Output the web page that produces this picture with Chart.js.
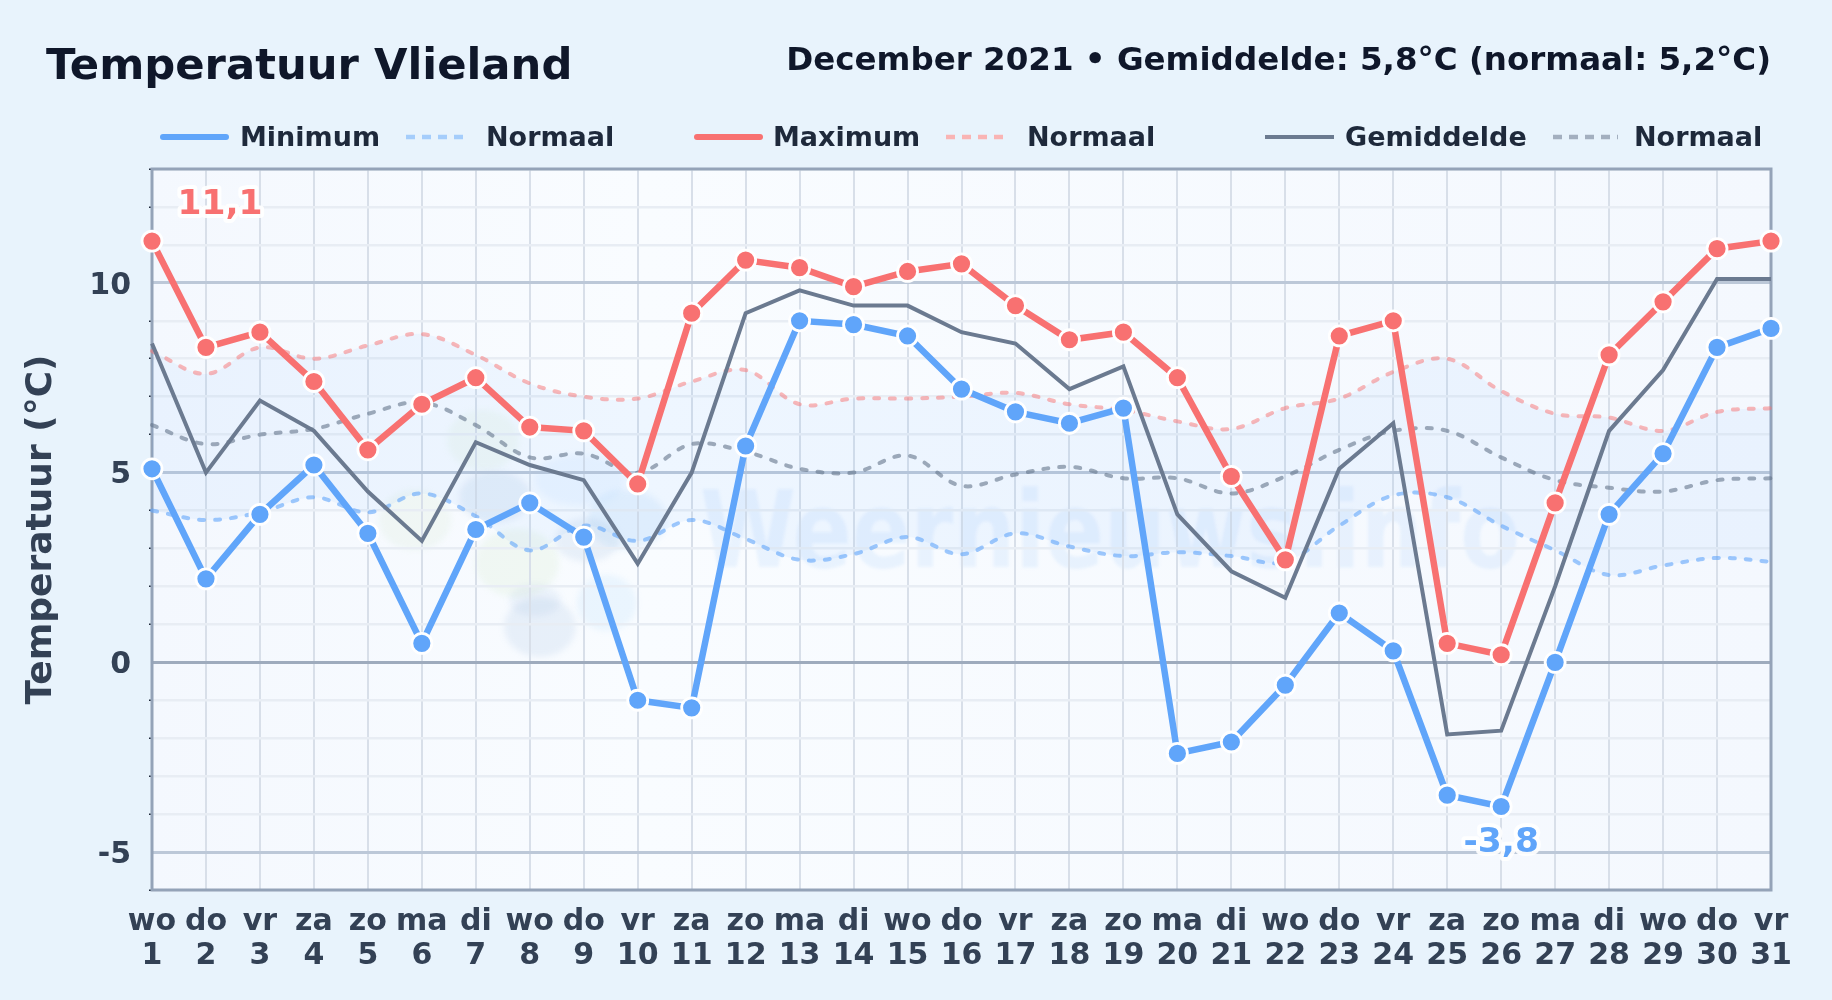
<!DOCTYPE html>
<html lang="nl">
<head>
<meta charset="utf-8">
<title>Temperatuur Vlieland</title>
<script src="https://cdn.jsdelivr.net/npm/chart.js@4"></script>
<style>
  html, body { margin: 0; padding: 0; width: 1832px; height: 1000px; overflow: hidden; background: #e8f3fc; }
  body { font-family: "DejaVu Sans", sans-serif; font-weight: bold; position: relative; }
  canvas { position: absolute; left: 0; top: 0; }
  .txt { position: absolute; line-height: 1; white-space: nowrap; }
  #title { left: 46px; top: 43px; font-size: 43.3px; color: #0f172a; }
  #subtitle { right: 61px; top: 43px; font-size: 32.5px; color: #0f172a; }
  .lg { top: 123px; font-size: 27px; color: #1e293b; }
  .sw { position: absolute; top: 131px; height: 12px; overflow: visible; }
</style>
</head>
<body>
<canvas id="chart" width="1832" height="1000"></canvas>
<div class="txt" id="title">Temperatuur Vlieland</div>
<div class="txt" id="subtitle">December 2021 • Gemiddelde: 5,8°C (normaal: 5,2°C)</div>

<svg class="sw" style="left:160px" width="69"><line x1="3" x2="66" y1="6" y2="6" stroke="#60a5fa" stroke-width="6" stroke-linecap="round"/></svg>
<div class="txt lg" style="left:240px">Minimum</div>
<svg class="sw" style="left:406px" width="60"><line x1="0" x2="60" y1="6" y2="6" stroke="#a5cdfb" stroke-width="4.5" stroke-dasharray="9 7"/></svg>
<div class="txt lg" style="left:486px">Normaal</div>
<svg class="sw" style="left:694px" width="69"><line x1="3" x2="66" y1="6" y2="6" stroke="#f87171" stroke-width="6" stroke-linecap="round"/></svg>
<div class="txt lg" style="left:773px">Maximum</div>
<svg class="sw" style="left:946px" width="60"><line x1="0" x2="60" y1="6" y2="6" stroke="#f9b4b4" stroke-width="4.5" stroke-dasharray="9 7"/></svg>
<div class="txt lg" style="left:1027px">Normaal</div>
<svg class="sw" style="left:1265px" width="69"><line x1="0" x2="69" y1="6" y2="6" stroke="#6b7a90" stroke-width="4"/></svg>
<div class="txt lg" style="left:1345px">Gemiddelde</div>
<svg class="sw" style="left:1553px" width="65"><line x1="0" x2="65" y1="6" y2="6" stroke="#a3afbf" stroke-width="4.5" stroke-dasharray="9 7"/></svg>
<div class="txt lg" style="left:1634px">Normaal</div>

<script>
const dayNames = ["wo","do","vr","za","zo","ma","di","wo","do","vr","za","zo","ma","di","wo","do","vr","za","zo","ma","di","wo","do","vr","za","zo","ma","di","wo","do","vr"];
const dayNumbers = ["1","2","3","4","5","6","7","8","9","10","11","12","13","14","15","16","17","18","19","20","21","22","23","24","25","26","27","28","29","30","31"];

const minValues = [5.1,2.2,3.9,5.2,3.4,0.5,3.5,4.2,3.3,-1.0,-1.2,5.7,9.0,8.9,8.6,7.2,6.6,6.3,6.7,-2.4,-2.1,-0.6,1.3,0.3,-3.5,-3.8,0.0,3.9,5.5,8.3,8.8];
const maxValues = [11.1,8.3,8.7,7.4,5.6,6.8,7.5,6.2,6.1,4.7,9.2,10.6,10.4,9.9,10.3,10.5,9.4,8.5,8.7,7.5,4.9,2.7,8.6,9.0,0.5,0.2,4.2,8.1,9.5,10.9,11.1];
const avgValues = [8.4,5.0,6.9,6.1,4.5,3.2,5.8,5.2,4.8,2.6,5.0,9.2,9.8,9.4,9.4,8.7,8.4,7.2,7.8,3.9,2.4,1.7,5.1,6.3,-1.9,-1.8,2.0,6.1,7.7,10.1,10.1];
const normalMin = [4.0,3.75,3.95,4.35,3.95,4.45,3.85,2.95,3.6,3.2,3.75,3.25,2.7,2.85,3.3,2.85,3.4,3.05,2.8,2.9,2.8,2.65,3.6,4.4,4.35,3.6,2.95,2.3,2.55,2.75,2.65];
const normalMax = [8.2,7.6,8.3,8.0,8.35,8.65,8.1,7.35,7.0,6.95,7.4,7.7,6.8,6.95,6.95,7.0,7.1,6.8,6.65,6.35,6.15,6.7,6.95,7.65,8.0,7.15,6.55,6.45,6.1,6.6,6.7];
const normalAvg = [6.25,5.75,6.0,6.15,6.55,6.85,6.25,5.4,5.5,5.0,5.75,5.55,5.1,5.0,5.45,4.65,4.95,5.15,4.85,4.85,4.45,4.9,5.6,6.1,6.1,5.4,4.8,4.6,4.5,4.8,4.85];

// rough shape of the logo behind the lines
const logoBlobs = [
  [483,440,36,30,"rgba(190,225,170,0.10)"], [415,520,36,30,"rgba(190,225,170,0.12)"], [517,563,42,34,"rgba(190,225,170,0.14)"],
  [495,497,36,26,"rgba(90,140,200,0.10)"], [580,480,46,26,"rgba(120,190,250,0.09)"], [627,520,40,30,"rgba(100,170,240,0.11)"],
  [587,540,32,22,"rgba(90,140,200,0.10)"], [540,627,36,30,"rgba(90,140,200,0.10)"], [535,600,26,16,"rgba(90,140,200,0.08)"],
  [607,603,30,28,"rgba(120,190,250,0.11)"]
];

const fmt = v => String(v).replace(".", ",");

const plotDecor = {
  id: "plotDecor",
  beforeDraw(chart) {
    const { ctx, chartArea: a } = chart;
    const grad = ctx.createLinearGradient(a.left, a.top, a.right, a.top);
    grad.addColorStop(0, "#f4f8fe");
    grad.addColorStop(0.3, "#f9fcff");
    grad.addColorStop(1, "#f4f8fe");
    ctx.save();
    ctx.fillStyle = grad;
    ctx.fillRect(a.left, a.top, a.right - a.left, a.bottom - a.top);
    ctx.filter = "blur(3px)";
    for (const b of logoBlobs) {
      ctx.fillStyle = b[4];
      ctx.beginPath();
      ctx.ellipse(b[0], b[1], b[2], b[3], 0, 0, Math.PI * 2);
      ctx.fill();
    }
    ctx.filter = "blur(1.5px)";
    ctx.fillStyle = "rgba(96,165,250,0.10)";
    ctx.font = "bold 107px 'DejaVu Sans'";
    ctx.fillText("Weernieuws.info", 700, 567, 820);
    ctx.restore();
  },
  beforeDatasetsDraw(chart) {
    const { ctx, chartArea: a } = chart;
    ctx.save();
    ctx.strokeStyle = "#94a3b8";
    ctx.lineWidth = 3;
    ctx.strokeRect(a.left, a.top, a.right - a.left, a.bottom - a.top);
    ctx.restore();
  },
  afterDatasetsDraw(chart) {
    const { ctx, scales } = chart;
    const hi = Math.max(...maxValues), lo = Math.min(...minValues);
    const notes = [
      [fmt(hi), scales.x.getPixelForValue(maxValues.indexOf(hi)) + 68, scales.y.getPixelForValue(hi) - 36, "#f87171"],
      [fmt(lo), scales.x.getPixelForValue(minValues.indexOf(lo)), scales.y.getPixelForValue(lo) + 37, "#60a5fa"]
    ];
    ctx.save();
    ctx.font = "bold 34.5px 'DejaVu Sans'";
    ctx.textAlign = "center";
    ctx.textBaseline = "middle";
    ctx.lineJoin = "round";
    for (const n of notes) {
      ctx.strokeStyle = "rgba(255,255,255,0.9)";
      ctx.lineWidth = 8;
      ctx.strokeText(n[0], n[1], n[2]);
      ctx.fillStyle = n[3];
      ctx.fillText(n[0], n[1], n[2]);
    }
    ctx.restore();
  }
};

const dashed = [5, 11];

new Chart(document.getElementById("chart").getContext("2d"), {
  type: "line",
  plugins: [plotDecor],
  data: {
    labels: dayNames.map((d, i) => [d, dayNumbers[i]]),
    datasets: [
      { label: "Minimum", data: minValues, order: 2, borderColor: "#60a5fa", borderWidth: 6.5,
        pointRadius: 10, pointBorderWidth: 2.8, pointBackgroundColor: "#60a5fa", pointBorderColor: "#fff", clip: false },
      { label: "Normaal", data: normalMin, order: 6, borderColor: "rgba(96,165,250,0.6)", borderWidth: 4,
        borderDash: dashed, borderCapStyle: "round", tension: 0.35, pointRadius: 0, clip: false },
      { label: "Maximum", data: maxValues, order: 1, borderColor: "#f87171", borderWidth: 6.5,
        pointRadius: 10, pointBorderWidth: 2.8, pointBackgroundColor: "#f87171", pointBorderColor: "#fff", clip: false },
      { label: "Normaal", data: normalMax, order: 5, borderColor: "rgba(248,113,113,0.5)", borderWidth: 4,
        borderDash: dashed, borderCapStyle: "round", tension: 0.35, pointRadius: 0, clip: false,
        fill: { target: 1 }, backgroundColor: "rgba(96,165,250,0.07)" },
      { label: "Gemiddelde", data: avgValues, order: 3, borderColor: "#6b7a90", borderWidth: 4, pointRadius: 0, clip: false },
      { label: "Normaal", data: normalAvg, order: 4, borderColor: "rgba(100,116,139,0.6)", borderWidth: 4,
        borderDash: dashed, borderCapStyle: "round", tension: 0.35, pointRadius: 0, clip: false }
    ]
  },
  options: {
    responsive: false,
    animation: false,
    layout: { padding: { left: 0, top: 169, right: 61, bottom: 0 } },
    plugins: { legend: { display: false }, tooltip: { enabled: false } },
    scales: {
      x: {
        afterFit(scale) { scale.height = 110; },
        border: { display: false },
        grid: { color: "#d8dfe9", lineWidth: 2, drawTicks: false },
        ticks: { color: "#334155", padding: 15, maxRotation: 0, autoSkip: false,
          font: { family: "'DejaVu Sans'", weight: "bold", size: 30, lineHeight: 1.13 } }
      },
      y: {
        min: -6,
        max: 13,
        afterFit(scale) { scale.width = 152; },
        border: { display: false },
        title: { display: true, text: "Temperatuur (°C)", color: "#334155", padding: { top: 20, bottom: 0 },
          font: { family: "'DejaVu Sans'", weight: "bold", size: 36 } },
        grid: {
          color: c => c.tick.value === 0 ? "#9eabbd" : (c.tick.value % 5 === 0 ? "#bcc8d8" : "#e8edf4"),
          lineWidth: c => c.tick.value % 5 === 0 ? 3 : 2.5,
          tickLength: 3,
          tickWidth: 1.5,
          tickColor: c => c.tick.value % 5 === 0 ? "rgba(0,0,0,0)" : "#1e293b"
        },
        ticks: { stepSize: 1, color: "#334155", padding: 18, labelOffset: 3, autoSkip: false,
          callback: v => v % 5 === 0 ? String(v) : "",
          font: { family: "'DejaVu Sans'", weight: "bold", size: 30 } }
      }
    }
  }
});
</script>
</body>
</html>
